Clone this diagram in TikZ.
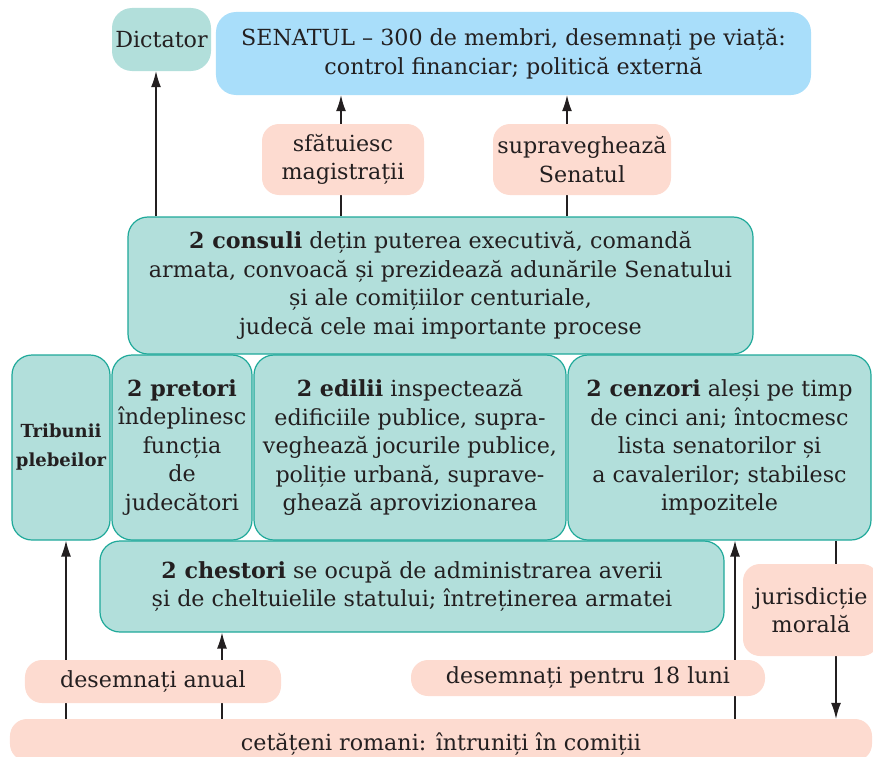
\documentclass[tikz,border=0pt]{standalone}
\usepackage{fontspec}
\setmainfont{DejaVu Serif}
\usetikzlibrary{arrows.meta,backgrounds}
\definecolor{tealfill}{HTML}{B2DFDB}
\definecolor{tealline}{HTML}{1FA99A}
\definecolor{bluefill}{HTML}{A9DEFA}
\definecolor{peach}{HTML}{FDDBD0}
\definecolor{ink}{HTML}{231F20}
\tikzset{
  base/.style={rectangle, rounded corners=20bp, inner sep=0pt, align=center, text=ink,
    font=\fontsize{22.2bp}{28.5bp}\selectfont},
  tealbox/.style={base, fill=tealfill, draw=tealline, line width=1.2bp},
  plainteal/.style={base, fill=tealfill},
  bluebox/.style={base, fill=bluefill},
  peachbox/.style={base, fill=peach, rounded corners=17bp},
  conn/.style={draw=ink, line width=1.3bp},
  arr/.style={conn, -{Latex[length=16bp,width=10bp]}}
}
\begin{document}
\begin{tikzpicture}[x=1bp,y=-1bp]
\useasboundingbox (0,0) rectangle (873,757);
\node[plainteal, minimum width=99bp, minimum height=63bp] (dict) at (161.5,39.5) {Dictator};
\node[bluebox, minimum width=595bp, minimum height=83bp] (senat) at (513.5,53.5)
  {SENATUL -- 300 de membri, desemnați pe viață:\\ control financiar; politică externă};
\node[peachbox, minimum width=162bp, minimum height=71bp] (sfat) at (343,159.5)
  {sfătuiesc\\ magistrații};
\node[peachbox, minimum width=178bp, minimum height=71bp] (supr) at (582,159.5)
  {supraveghează\\ Senatul};
\node[tealbox, minimum width=625bp, minimum height=137bp] (consul) at (440.5,285.5)
  {\textbf{2 consuli} dețin puterea executivă, comandă\\ armata, convoacă și prezidează adunările Senatului\\ și ale comițiilor centuriale,\\ judecă cele mai importante procese};
\node[tealbox, minimum width=98bp, minimum height=185bp, font=\fontsize{18bp}{29bp}\selectfont\bfseries] (trib) at (61,447.5)
  {Tribunii\\ plebeilor};
\node[tealbox, minimum width=140bp, minimum height=185bp] (pret) at (182,447.5)
  {\textbf{2 pretori}\\ îndeplinesc\\ funcția\\ de\\ judecători};
\node[tealbox, minimum width=312bp, minimum height=185bp] (edil) at (410,447.5)
  {\textbf{2 edilii} inspectează\\ edificiile publice, supra-\\ veghează jocurile publice,\\ poliție urbană, suprave-\\ ghează aprovizionarea};
\node[tealbox, minimum width=303bp, minimum height=185bp] (cenz) at (719.5,447.5)
  {\textbf{2 cenzori} aleși pe timp\\ de cinci ani; întocmesc\\ lista senatorilor și\\ a cavalerilor; stabilesc\\ impozitele};
\node[tealbox, minimum width=624bp, minimum height=91bp] (chest) at (412,586.5)
  {\textbf{2 chestori} se ocupă de administrarea averii\\ și de cheltuielile statului; întreținerea armatei};
\node[peachbox, minimum width=136bp, minimum height=92bp] (jur) at (811,610)
  {jurisdicție\\ morală};
\node[peachbox, minimum width=256bp, minimum height=43bp] (anual) at (153,681.5)
  {desemnați anual};
\node[peachbox, minimum width=354bp, minimum height=36bp] (luni) at (588,678)
  {desemnați pentru 18 luni};
\node[peachbox, minimum width=862bp, minimum height=42bp, text depth=0pt] (cet) at (441,740)
  {\raisebox{-3bp}{cetățeni romani: întruniți în comiții}};
\coordinate (cD) at (156,0);
\coordinate (cS1) at (341,0);
\coordinate (cS2) at (567,0);
\coordinate (cT) at (66,0);
\coordinate (cC) at (222,0);
\coordinate (cZ) at (735,0);
\coordinate (cJ) at (836,0);
\begin{pgfonlayer}{background}
\draw[arr] (consul.north -| cD) -- (dict.south -| cD);
\draw[conn] (consul.north -| cS1) -- (sfat.south -| cS1);
\draw[arr] (sfat.north -| cS1) -- (senat.south -| cS1);
\draw[conn] (consul.north -| cS2) -- (supr.south -| cS2);
\draw[arr] (supr.north -| cS2) -- (senat.south -| cS2);
\draw[arr] (cet.north -| cT) -- (trib.south -| cT);
\draw[arr] (cet.north -| cC) -- (chest.south -| cC);
\draw[arr] (cet.north -| cZ) -- (cenz.south -| cZ);
\draw[arr] (cenz.south -| cJ) -- (cet.north -| cJ);
\end{pgfonlayer}
\end{tikzpicture}
\end{document}
